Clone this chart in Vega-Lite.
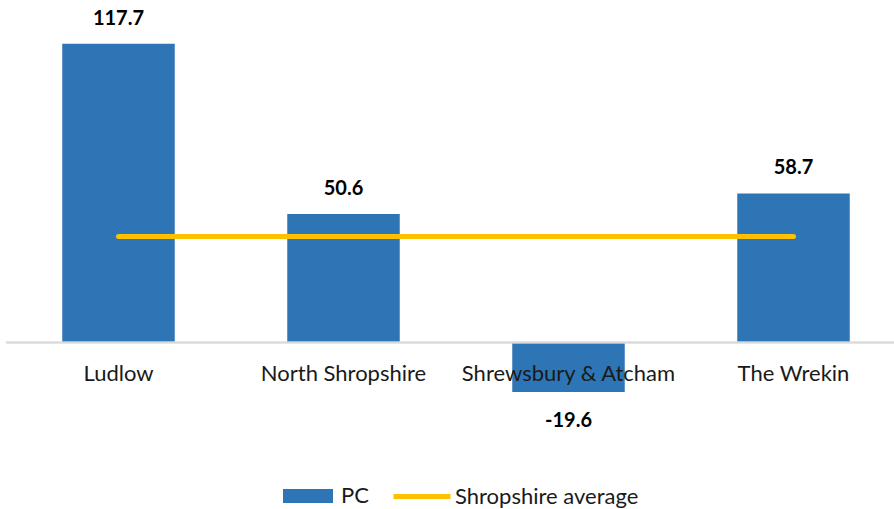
{
  "$schema": "https://vega.github.io/schema/vega-lite/v6.json",
  "width": 900,
  "height": 406,
  "autosize": {"type": "none"},
  "padding": {"left": 6, "top": 12.5, "right": 0, "bottom": 90.5},
  "background": "white",
  "config": {"view": {"stroke": null}, "font": "Lato"},
  "data": {
    "values": [
      {"area": "Ludlow", "value": 117.7, "avg": 41.7, "series": "PC", "avgSeries": "Shropshire average"},
      {"area": "North Shropshire", "value": 50.6, "avg": 41.7, "series": "PC", "avgSeries": "Shropshire average"},
      {"area": "Shrewsbury & Atcham", "value": -19.6, "avg": 41.7, "series": "PC", "avgSeries": "Shropshire average"},
      {"area": "The Wrekin", "value": 58.7, "avg": 41.7, "series": "PC", "avgSeries": "Shropshire average"}
    ]
  },
  "encoding": {
    "x": {"field": "area", "type": "nominal", "sort": null, "scale": {"paddingInner": 0.5, "paddingOuter": 0.25}, "axis": null}
  },
  "layer": [
    {
      "mark": {"type": "bar", "color": "#2E75B6"},
      "encoding": {
        "y": {"field": "value", "type": "quantitative", "scale": {"domain": [-30, 130], "nice": false}, "axis": null},
        "color": {"field": "series", "type": "nominal", "scale": {"domain": ["PC"], "range": ["#2E75B6"]},
          "legend": {"orient": "none", "legendX": 277, "legendY": 458.5, "title": null, "direction": "horizontal", "padding": 0,
            "symbolType": "M-1,-0.28H1V0.28H-1Z", "symbolSize": 2500, "symbolStrokeWidth": 0, "symbolOpacity": 1,
            "labelFontSize": 22, "labelColor": "#1a1a1a", "labelOffset": 8, "labelFont": "Lato", "labelLimit": 400}}
      }
    },
    {
      "mark": {"type": "rule", "color": "#d9d9d9", "strokeWidth": 1.5},
      "encoding": {"x": null, "y": {"datum": 0, "type": "quantitative"}}
    },
    {
      "mark": {"type": "line", "strokeWidth": 5, "strokeCap": "round"},
      "encoding": {
        "y": {"field": "avg", "type": "quantitative"},
        "stroke": {"field": "avgSeries", "type": "nominal", "scale": {"domain": ["Shropshire average"], "range": ["#FFC000"]},
          "legend": {"orient": "none", "legendX": 385, "legendY": 453, "title": null, "direction": "horizontal", "padding": 0,
            "symbolType": "stroke", "symbolSize": 3249, "symbolStrokeWidth": 5,
            "labelFontSize": 22, "labelColor": "#1a1a1a", "labelOffset": 2, "labelFont": "Lato", "labelLimit": 400}}
      }
    },
    {
      "transform": [{"filter": "datum.value >= 0"}],
      "mark": {"type": "text", "fontSize": 20, "fontWeight": "bold", "dy": -25, "color": "#000000"},
      "encoding": {"y": {"field": "value", "type": "quantitative"}, "text": {"field": "value", "type": "nominal"}}
    },
    {
      "transform": [{"filter": "datum.value < 0"}],
      "mark": {"type": "text", "fontSize": 20, "fontWeight": "bold", "dy": 29, "color": "#000000"},
      "encoding": {"y": {"field": "value", "type": "quantitative"}, "text": {"field": "value", "type": "nominal"}}
    },
    {
      "mark": {"type": "text", "fontSize": 22, "dy": 32, "color": "#1a1a1a"},
      "encoding": {"y": {"datum": 0, "type": "quantitative"}, "text": {"field": "area", "type": "nominal"}}
    }
  ]
}
